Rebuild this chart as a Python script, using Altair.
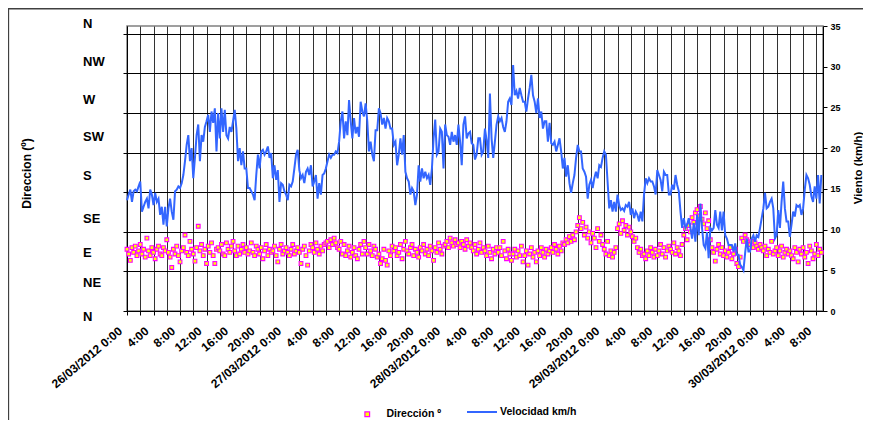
import altair as alt
import pandas as pd

# ---------------- data (one value every 15 min) ----------------
start_time = "2012-03-26 00:00"

velocidad = [
    13.6, 14.3, 14.9, 13.4, 14.7, 14.9, 14.7, 15.3, 15.9, 12.2,
    12.8, 13.4, 13.8, 12.6, 14.9, 14.3, 13.0, 14.5, 13.4, 13.8,
    11.8, 12.8, 10.6, 12.8, 10.4, 12.6, 13.8, 12.2, 11.2, 14.7,
    14.9, 15.3, 15.1, 15.7, 16.7, 18.4, 20.4, 21.6, 18.4, 20.0,
    16.3, 18.8, 21.6, 22.9, 18.4, 21.6, 20.8, 22.6, 23.3, 24.1,
    22.0, 24.5, 23.1, 24.9, 19.6, 24.3, 21.2, 24.9, 22.0, 24.7,
    21.6, 21.2, 22.6, 22.0, 23.3, 24.7, 22.4, 18.4, 20.0, 17.9,
    19.6, 17.5,
    17.5, 15.1, 15.1, 14.7, 14.3, 13.6, 16.7, 19.2, 17.5, 19.6,
    19.8, 19.2, 19.6, 20.2, 18.8, 19.4, 16.3, 17.9, 16.1, 17.3,
    13.4, 15.7, 15.5, 14.7, 14.3, 13.6, 15.5, 15.3, 15.9, 17.5,
    19.2, 19.8, 17.3, 16.3, 16.7, 15.7, 17.1, 17.5, 16.7, 17.9,
    15.3, 15.9, 16.7, 13.8, 15.7, 14.3, 16.7, 16.9, 17.5, 18.4,
    19.2, 18.8, 19.2, 19.2, 19.6, 19.4, 20.8, 23.3, 24.5, 21.2,
    23.3, 21.6, 25.9, 23.3, 21.2, 23.7, 21.8, 22.6, 21.4, 25.7,
    24.5, 23.9, 25.5, 23.3, 19.6, 20.8, 19.2, 18.4, 22.2, 22.2,
    24.9, 24.3, 22.9, 23.7, 22.4, 23.7, 23.3, 22.4, 22.4, 20.4,
    20.8, 17.9, 19.2, 21.2, 19.2, 21.6, 17.1, 16.3, 15.9, 14.3,
    15.1, 14.7, 13.0, 14.3, 17.9, 15.9, 17.5, 16.3, 17.1, 16.3,
    16.7, 15.5, 17.5, 21.2, 23.5, 19.2, 19.6, 22.4, 22.0, 17.5,
    22.9, 21.6, 21.4, 20.4, 22.0, 20.8, 21.6, 20.4, 22.9, 20.8,
    17.9, 22.9, 23.9, 21.2, 21.8, 22.0, 20.6,
    20.4, 18.6, 19.2, 21.2, 21.2, 19.2, 19.6, 22.4, 21.0, 18.8,
    26.7, 21.2, 18.8, 20.8, 22.9, 23.9, 23.3, 23.7, 22.6, 22.0,
    23.3, 25.7, 26.1, 25.3, 30.2, 26.5, 27.0, 26.1, 27.4, 26.5,
    25.7, 25.7, 24.5, 26.1, 27.4, 29.0, 26.5, 25.7, 24.3, 26.1,
    23.7, 24.5, 22.4, 23.3, 23.3, 20.8, 23.1, 20.6, 20.4, 20.8,
    19.6, 20.4, 21.2, 19.6, 17.5, 18.8, 16.5, 17.9, 15.7, 14.5,
    15.7, 16.7, 18.8, 20.4, 19.6, 19.6, 17.5, 17.1, 16.5, 13.8,
    15.5, 16.1, 15.1,
    16.3, 17.1, 16.3, 17.9, 17.7, 18.8, 19.6, 19.2, 15.9, 12.6,
    13.6, 12.2, 13.4, 12.2, 14.3, 13.0, 12.4, 12.6, 12.3, 13.0,
    12.8, 13.4, 11.8, 12.6, 11.4, 12.2, 11.8, 11.0, 12.2, 11.0,
    14.3, 16.3, 15.7, 16.3, 15.9, 15.9, 15.3, 14.3, 17.3, 16.7,
    16.1, 14.7, 17.1, 16.7, 16.7, 14.3, 14.3, 15.5, 14.9, 16.7,
    15.5, 14.7, 12.2, 10.2, 11.4, 10.2, 10.6, 11.4, 10.2, 8.9,
    10.8, 8.5, 11.8, 9.3, 13.2, 10.2, 8.1, 7.7, 9.7, 6.5,
    10.2, 9.9, 10.2, 12.4, 10.6, 10.2, 12.2, 9.9, 12.2, 9.3,
    8.9, 8.1, 8.1, 8.1, 7.3, 8.3, 6.9, 6.9, 5.7, 5.4,
    5.0, 7.1, 8.9, 7.3, 7.3, 8.9, 9.3, 8.5, 9.3, 9.1,
    10.2, 11.4, 12.6, 14.5, 12.6, 12.8, 13.4, 13.8, 12.6, 8.9,
    9.3, 12.4, 10.2, 13.4, 15.9, 12.6, 11.0, 11.0, 9.1, 10.6,
    12.2, 11.6, 13.0, 12.8, 13.0, 11.8, 12.6, 14.9, 16.7, 16.3,
    15.5, 14.1, 13.4, 15.3, 13.8, 16.7, 13.2, 16.7,
]

direccion = [
    78, 72, 64, 80, 74, 82, 70, 76,
    84, 72, 78, 68, 92, 76, 70, 80,
    74, 66, 78, 82, 72, 70, 80, 76,
    90, 74, 68, 55, 78, 72, 82, 70,
    62, 76, 80, 96, 74, 70, 88, 78,
    72, 63, 80, 107, 76, 84, 70, 78,
    60, 82, 74, 86, 70, 60, 78, 80,
    76, 84, 72, 70, 86, 78, 74, 82,
    88, 76, 70, 82, 72, 78, 84, 74,
    80, 72, 76, 86, 74, 70, 82, 78,
    72, 80, 66, 76, 84, 70, 78, 74,
    76, 82, 70, 62, 78, 84, 72, 76,
    80, 74, 70, 78, 84, 72, 76, 80,
    74, 60, 78, 82, 70, 58, 76, 84,
    80, 74, 86, 78, 72, 82, 76, 84,
    86, 88, 80, 90, 84, 92, 86, 80,
    78, 88, 72, 84, 70, 76, 82, 68,
    74, 80, 70, 66, 78, 84, 72, 88,
    80, 72, 84, 76, 70, 82, 78, 68,
    72, 60, 66, 78, 64, 58, 76, 70,
    82, 76, 80, 70, 74, 84, 66, 78,
    88, 76, 72, 80, 84, 70, 78, 74,
    68, 80, 76, 84, 72, 78, 70, 82,
    76, 64, 80, 74, 86, 78, 72, 82,
    84, 88, 80, 92, 86, 82, 90, 84,
    86, 80, 88, 84, 78, 90, 82, 86,
    80, 76, 84, 72, 78, 86, 74, 80,
    76, 70, 82, 74, 66, 78, 72, 80,
    74, 80, 70, 88, 76, 66, 78, 72,
    64, 72, 78, 68, 76, 70, 82, 62,
    70, 76, 58, 72, 80, 68, 74, 62,
    76, 70, 80, 74, 68, 78, 72, 76,
    80, 74, 84, 78, 72, 82, 76, 86,
    84, 90, 86, 94, 88, 96, 90, 100,
    108, 118, 104, 112, 96, 106, 92, 100,
    86, 98, 92, 80, 104, 88, 96, 84,
    78, 72, 88, 70, 76, 68, 74, 80,
    104, 110, 98, 114, 102, 108, 96, 106,
    100, 94, 88, 92, 80, 74, 78, 70,
    72, 66, 76, 70, 80, 74, 68, 78,
    70, 76, 84, 72, 80, 68, 76, 82,
    78, 74, 86, 72, 80, 76, 70, 84,
    96, 104, 90, 108, 100, 118, 112, 124,
    128, 120, 132, 116, 110, 124, 104, 114,
    90, 80, 74, 63, 78, 84, 72, 80,
    70, 76, 68, 74, 80, 66, 72, 78,
    60, 56, 68, 92, 88, 96, 90, 86,
    84, 88, 80, 86, 82, 78, 84, 80,
    76, 82, 70, 78, 74, 88, 72, 76,
    80, 70, 76, 82, 68, 74, 78, 72,
    76, 70, 66, 80, 74, 62, 78, 72,
    80, 68, 74, 60, 82, 76, 66, 72,
    84, 70, 78, 74,
]

compass_labels = ["N", "NW", "W", "SW", "S", "SE", "E", "NE", "N"]
compass_pos = [362, 315, 267, 220, 171, 116, 73, 36, -8]

serie_dir = "Dirección º"
serie_vel = "Velocidad km/h"

# ---------------- tables ----------------
n = min(len(velocidad), len(direccion))
times = pd.date_range(start_time, periods=n, freq="15min")
df = pd.DataFrame({
    "t": times.strftime("%Y-%m-%dT%H:%M:%S"),
    "vel": velocidad[:n],
    "dir": direccion[:n],
    "s1": serie_dir,
    "s2": serie_vel,
})
comp_df = pd.DataFrame({"lab": compass_labels, "pos": compass_pos})

FONT = "Liberation Sans"
dt0 = alt.DateTime(year=2012, month=3, date=26, hours=0)
dt1 = alt.DateTime(year=2012, month=3, date=30, hours=9)
tick_values = [alt.DateTime(year=2012, month=3, date=26 + h // 24, hours=h % 24)
               for h in range(0, 105, 2)]

x_axis = alt.Axis(
    values=tick_values,
    labelExpr=("hours(datum.value) % 4 != 0 ? '' : "
               "(hours(datum.value) == 0 ? timeFormat(datum.value, '%d/%m/%Y') + ' 0:00' "
               ": hours(datum.value) + ':00')"),
    labelAngle=320, labelAlign="right", labelBaseline="middle",
    labelFontSize=12, labelFontWeight="bold", labelColor="black", labelFont=FONT,
    labelOverlap=False, labelBound=False, labelFlush=False,
    labelPadding=14, labelOffset=-7,
    tickSize=4, tickColor="black", domainColor="black", domainWidth=1,
    grid=True, gridColor="#333333", gridWidth=1,
    title=None,
)
X = alt.X("t:T", scale=alt.Scale(domain=[dt0, dt1]), axis=x_axis)

# outer chart frame (top and left edges, as in the reference)
frame_df = pd.DataFrame({"k": [0]})
frame_top = alt.Chart(frame_df).mark_rule(color="#404040", strokeWidth=1.5).encode(
    x=alt.value(-119), x2=alt.value(760), y=alt.value(-17.3)
)
frame_left = alt.Chart(frame_df).mark_rule(color="#404040", strokeWidth=1.5).encode(
    x=alt.value(-118.6), y=alt.value(-18), y2=alt.value(420)
)

pts = alt.Chart(df).mark_square(
    size=14, fill="#ffff00", strokeWidth=1.1, opacity=1
).encode(
    x=X,
    y=alt.Y("dir:Q", scale=alt.Scale(domain=[0, 360]),
            axis=alt.Axis(orient="left", values=list(range(0, 351, 50)), labels=False,
                          tickSize=4, tickColor="black", domainColor="black",
                          grid=True, gridColor="black", gridWidth=1,
                          title="Direccion (º)", titleX=-101, titleY=147, titleAngle=270,
                          titleAlign="center", titleBaseline="middle",
                          titleFontSize=12, titleFontWeight="bold", titleFont=FONT,
                          titleColor="black")),
    stroke=alt.Stroke("s1:N", scale=alt.Scale(domain=[serie_dir], range=["#ff00ff"]),
                      legend=alt.Legend(orient="none", legendX=235, legendY=383, title=None,
                                        symbolType="square", symbolSize=22,
                                        symbolFillColor="#ffff00", symbolStrokeWidth=1.2,
                                        labelFontSize=10.5, labelFontWeight="bold",
                                        labelFont=FONT, labelColor="black",
                                        labelOffset=14, padding=0)),
)

txt = alt.Chart(comp_df).mark_text(
    align="left", baseline="middle", fontSize=13, fontWeight="bold", font=FONT, color="black"
).encode(
    x=alt.value(-44),
    y=alt.Y("pos:Q", scale=alt.Scale(domain=[0, 360]), axis=None),
    text="lab:N",
)

line = alt.Chart(df).mark_line(strokeWidth=2).encode(
    x=X,
    y=alt.Y("vel:Q", scale=alt.Scale(domain=[0, 35]),
            axis=alt.Axis(orient="right", values=list(range(0, 36, 5)), grid=False,
                          tickSize=4, tickColor="black", domainColor="black",
                          labelFontSize=9, labelFontWeight="bold", labelFont=FONT,
                          labelColor="black", labelPadding=3,
                          title="Viento (km/h)", titleX=35, titleY=141.5, titleAngle=270,
                          titleAlign="center", titleBaseline="middle",
                          titleFontSize=11.5, titleFontWeight="bold", titleFont=FONT,
                          titleColor="black")),
    color=alt.Color("s2:N", scale=alt.Scale(domain=[serie_vel], range=["#3366ff"]),
                    legend=alt.Legend(orient="none", legendX=339, legendY=370, title=None,
                                      symbolType="stroke", symbolSize=900,
                                      symbolStrokeWidth=2,
                                      labelFontSize=10.5, labelFontWeight="bold",
                                      labelFont=FONT, labelColor="black",
                                      labelOffset=2, padding=0)),
)

chart = alt.layer(frame_top, frame_left, pts, txt, line).resolve_scale(
    y="independent"
).properties(
    width=696, height=285,
    autosize=alt.AutoSizeParams(type="none"),
    padding={"left": 119, "top": 18, "right": 40, "bottom": 109},
).configure(
    font=FONT, background="white"
).configure_view(
    stroke="#808080", strokeWidth=1.5
)

chart.save("out.html", embed_options={"renderer": "svg", "actions": False})
